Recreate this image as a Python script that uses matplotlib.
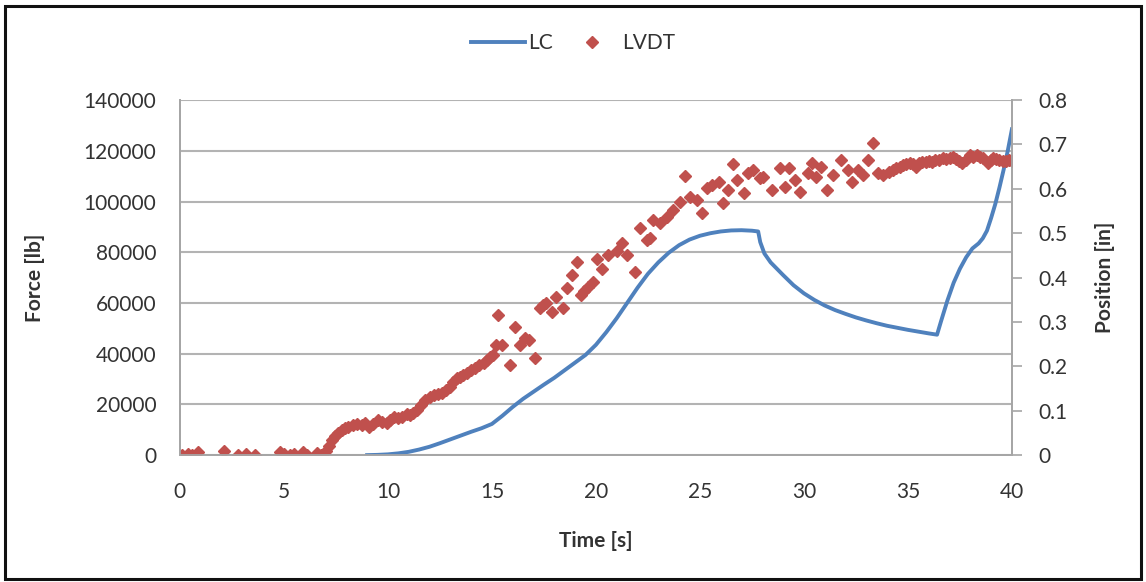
import matplotlib
matplotlib.use("Agg")
import matplotlib.pyplot as plt
from matplotlib.patches import Rectangle

plt.rcParams["font.family"] = ["Lato", "DejaVu Sans"]

LC_BLUE = "#4F81BD"
LVDT_RED = "#C0504D"
GRID = "#b3b3b3"
TEXT = "#333333"

# LC load cell (force, lb) vs time (s)
lc_time = [9.0, 9.5, 10.0, 10.5, 11.0, 11.5, 12.0, 12.5, 13.0, 13.5, 14.0, 14.5,
           15.0, 15.5, 16.0, 16.5, 17.0, 17.5, 18.0, 18.5, 19.0, 19.5, 20.0, 20.5,
           21.0, 21.5, 22.0, 22.5, 23.0, 23.5, 24.0, 24.5, 25.0, 25.5, 26.0, 26.5,
           27.0, 27.5, 27.8, 27.9, 28.1, 28.4, 28.7, 29.0, 29.5, 30.0, 30.5, 31.0,
           31.5, 32.0, 32.5, 33.0, 33.5, 34.0, 34.5, 35.0, 35.5, 36.0, 36.4, 36.6,
           36.9, 37.2, 37.5, 37.8, 38.1, 38.4, 38.6, 38.8, 39.0, 39.2, 39.4, 39.6,
           39.8, 40.0]
lc_force = [0, 100, 300, 700, 1300, 2200, 3300, 4700, 6200, 7700, 9200, 10600,
            12300, 15500, 19000, 22200, 25000, 27800, 30500, 33500, 36500, 39500, 43500, 48500,
            54000, 60000, 66000, 71500, 76000, 79800, 82800, 85000, 86500, 87500, 88200, 88600,
            88700, 88500, 88200, 84000, 79500, 76000, 73500, 71000, 67000, 63800, 61200, 59000,
            57200, 55700, 54300, 53100, 52000, 51000, 50200, 49400, 48700, 48000, 47500, 53000,
            61000, 68000, 73500, 78000, 81500, 83500, 85500, 88500, 93500, 99000, 105500, 112500,
            120000, 128500]

# LVDT position (in) vs time (s)
lvdt_time = [0.1, 0.4, 0.6, 0.85, 2.1, 2.8, 3.2, 3.6, 4.8, 5.0, 5.3, 5.5,
             5.9, 6.1, 6.6, 6.8, 7.0, 7.15, 7.3, 7.45, 7.6, 7.8, 7.95, 8.1,
             8.3, 8.5, 8.75, 8.9, 9.1, 9.3, 9.5, 9.7, 9.95, 10.1, 10.3, 10.5,
             10.7, 10.9, 11.05, 11.2, 11.4, 11.6, 11.8, 12.0, 12.2, 12.4, 12.6, 12.8,
             13.0, 13.15, 13.3, 13.45, 13.6, 13.8, 14.0, 14.2, 14.4, 14.6, 14.75, 14.9,
             15.05, 15.2, 15.3, 15.5, 15.85, 16.1, 16.35, 16.6, 16.8, 17.05, 17.3, 17.45,
             17.6, 17.9, 18.1, 18.4, 18.6, 18.85, 19.1, 19.3, 19.45, 19.6, 19.85, 20.05,
             20.3, 20.6, 21.0, 21.25, 21.5, 21.9, 22.1, 22.45, 22.6, 22.75, 23.1, 23.4,
             23.7, 24.05, 24.3, 24.5, 24.85, 25.1, 25.35, 25.6, 25.9, 26.1, 26.35, 26.6,
             26.8, 27.1, 27.3, 27.55, 27.9, 28.05, 28.45, 28.85, 29.1, 29.3, 29.55, 29.8,
             30.2, 30.4, 30.6, 30.8, 31.1, 31.4, 31.8, 32.1, 32.3, 32.6, 32.85, 33.1,
             33.3, 33.55, 33.8, 34.1, 34.3, 34.45, 34.6, 34.75, 34.9, 35.1, 35.25, 35.4,
             35.55, 35.7, 35.85, 36.0, 36.15, 36.3, 36.5, 36.7, 36.85, 37.0, 37.15, 37.3,
             37.45, 37.6, 37.8, 38.0, 38.15, 38.3, 38.45, 38.6, 38.85, 39.0, 39.1, 39.25,
             39.4, 39.55, 39.7, 39.85, 40.0]
lvdt_pos = [0.0, 0.003, 0.0, 0.007, 0.01, 0.0, 0.003, 0.0, 0.007, 0.003, 0.0, 0.003,
            0.006, 0.0, 0.004, 0.0, 0.01, 0.02, 0.034, 0.042, 0.05, 0.056, 0.06, 0.064,
            0.067, 0.07, 0.067, 0.072, 0.063, 0.07, 0.079, 0.075, 0.072, 0.08, 0.086, 0.083,
            0.086, 0.092, 0.09, 0.095, 0.101, 0.112, 0.124, 0.13, 0.135, 0.137, 0.14, 0.147,
            0.153, 0.165, 0.173, 0.176, 0.18, 0.185, 0.191, 0.197, 0.203, 0.208, 0.214, 0.22,
            0.225, 0.248, 0.315, 0.248, 0.203, 0.288, 0.248, 0.263, 0.259, 0.218, 0.331, 0.338,
            0.342, 0.322, 0.356, 0.331, 0.376, 0.405, 0.435, 0.36, 0.37, 0.378, 0.39, 0.443,
            0.42, 0.45, 0.46, 0.477, 0.45, 0.412, 0.511, 0.484, 0.49, 0.529, 0.522, 0.536,
            0.552, 0.57, 0.63, 0.581, 0.574, 0.545, 0.601, 0.608, 0.615, 0.568, 0.597, 0.655,
            0.619, 0.59, 0.635, 0.642, 0.624, 0.626, 0.597, 0.646, 0.604, 0.646, 0.619, 0.592,
            0.635, 0.658, 0.626, 0.649, 0.597, 0.631, 0.665, 0.642, 0.615, 0.642, 0.631, 0.665,
            0.703, 0.635, 0.631, 0.637, 0.642, 0.646, 0.65, 0.653, 0.655, 0.658, 0.655, 0.649,
            0.658, 0.66, 0.66, 0.662, 0.66, 0.665, 0.664, 0.669, 0.667, 0.669, 0.671, 0.667,
            0.662, 0.658, 0.665, 0.676, 0.672, 0.676, 0.671, 0.669, 0.658, 0.666, 0.669, 0.667,
            0.665, 0.663, 0.662, 0.664, 0.662]

force_ticks = [0, 20000, 40000, 60000, 80000, 100000, 120000, 140000]
pos_ticks = [0, 0.1, 0.2, 0.3, 0.4, 0.5, 0.6, 0.7, 0.8]
time_ticks = [0, 5, 10, 15, 20, 25, 30, 35, 40]

fig = plt.figure(figsize=(11.46, 5.82), dpi=100)
ax = fig.add_axes([0.157, 0.218, 0.726, 0.610])
ax2 = ax.twinx()

ax.plot(lc_time, lc_force, color=LC_BLUE, linewidth=2.8, label="LC", zorder=3,
        solid_joinstyle="round")
ax2.plot(lvdt_time, lvdt_pos, linestyle="none", marker="D", markersize=6.3,
         color=LVDT_RED, label="LVDT")

ax.set_xlim(0, 40)
ax.set_ylim(0, 140000)
ax2.set_ylim(0, 0.8)
ax.set_xticks(time_ticks)
ax.set_yticks(force_ticks)
ax2.set_yticks(pos_ticks)
ax2.set_yticklabels([f"{v:g}" for v in pos_ticks])

ax.grid(axis="y", color=GRID, linewidth=1.5)
ax.set_axisbelow(True)

for a in (ax, ax2):
    a.spines["top"].set_visible(False)
    for s in ("left", "right", "bottom"):
        a.spines[s].set_color("#a6a6a6")
        a.spines[s].set_linewidth(1.3)

ax.tick_params(axis="y", length=0, pad=17, labelsize=15, labelcolor=TEXT)
ax.tick_params(axis="x", length=0, pad=19, labelsize=15, labelcolor=TEXT)
ax2.tick_params(axis="y", length=7, width=1.2, color="#a6a6a6", pad=12,
                labelsize=15, labelcolor=TEXT)

ax.set_xlabel("Time [s]", fontsize=15, fontweight="bold", color=TEXT)
ax.set_ylabel("Force [lb]", fontsize=15, fontweight="bold", color=TEXT)
ax2.set_ylabel("Position [in]", fontsize=15, fontweight="bold", color=TEXT)
ax.xaxis.set_label_coords(0.5, -0.214)
ax.yaxis.set_label_coords(-0.162, 0.5)
ax2.yaxis.set_label_coords(1.10, 0.5)

h1, l1 = ax.get_legend_handles_labels()
h2, l2 = ax2.get_legend_handles_labels()
fig.legend(h1 + h2, l1 + l2, loc="center", bbox_to_anchor=(0.50, 0.926),
           ncol=2, frameon=False, fontsize=15, handlelength=2.6,
           handletextpad=0.15, columnspacing=0.6, labelcolor=TEXT)

fig.patches.append(Rectangle((0.004, 0.006), 0.992, 0.984, transform=fig.transFigure,
                             fill=False, edgecolor="#111111", linewidth=2.2))

fig.savefig("out.png", dpi=100, facecolor="white")
